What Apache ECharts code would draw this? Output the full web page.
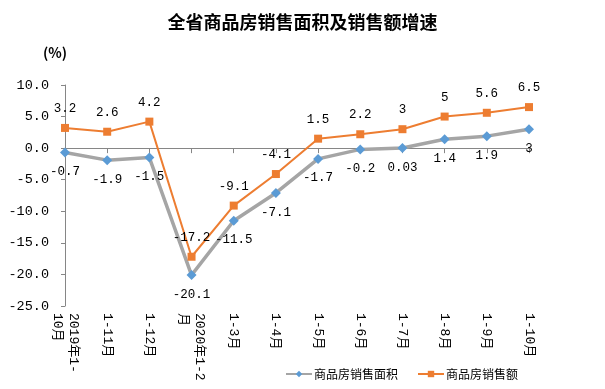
<!DOCTYPE html>
<html><head><meta charset="utf-8">
<script src="https://cdn.jsdelivr.net/npm/echarts@6/dist/echarts.min.js"></script>
<style>html,body{margin:0;padding:0;background:#fff}#c{width:605px;height:389px}</style>
</head><body><div id="c"></div>
<script>
var categories = ["2019年1-\n10月","1-11月","1-12月","2020年1-2\n月","1-3月","1-4月","1-5月","1-6月","1-7月","1-8月","1-9月","1-10月"];
var areaGrowth = [-0.7,-1.9,-1.5,-20.1,-11.5,-7.1,-1.7,-0.2,0.03,1.4,1.9,3];
var salesGrowth = [3.2,2.6,4.2,-17.2,-9.1,-4.1,1.5,2.2,3,5,5.6,6.5];
var seriesNames = ["商品房销售面积","商品房销售额"];
var FONT = '"Liberation Mono","Noto Sans CJK SC",monospace';
var chart = echarts.init(document.getElementById('c'));
chart.setOption({
  animation:false,
  backgroundColor:'#fff',
  title:{text:'全省商品房销售面积及销售额增速',left:'center',top:8,
    textStyle:{fontSize:18,fontWeight:'bold',color:'#000',fontFamily:'"Noto Sans CJK SC"'}},
  graphic:[{type:'text',left:43,top:46,style:{text:'(%)',font:'bold 14px "Noto Sans CJK SC"',fill:'#000'}}],
  grid:{left:65,right:76,top:85,bottom:83},
  legend:{left:280,top:363,itemGap:19,itemWidth:26,itemHeight:8,
    textStyle:{fontSize:12,color:'#000',fontFamily:'"Noto Sans CJK SC"',padding:[0,0,0,-3]},
    data:seriesNames},
  xAxis:{type:'category',boundaryGap:false,data:categories,
    axisLine:{lineStyle:{color:'#868686'}},
    axisTick:{alignWithLabel:true,length:5,lineStyle:{color:'#868686'}},
    axisLabel:{rotate:-90,interval:0,margin:7,fontSize:13,color:'#000',fontFamily:FONT,lineHeight:16}},
  yAxis:{type:'value',min:-25,max:10,interval:5,
    axisLine:{show:true,lineStyle:{color:'#868686'}},
    axisTick:{show:true,length:4,lineStyle:{color:'#868686'}},
    splitLine:{show:false},
    axisLabel:{margin:16,fontSize:13.5,color:'#000',fontFamily:FONT,formatter:function(v){return v.toFixed(1);}}},
  series:[
    {name:seriesNames[0],type:'line',data:areaGrowth,symbol:'diamond',symbolSize:10,
     lineStyle:{color:'#A5A5A5',width:3.5},itemStyle:{color:'#5B9BD5'},
     label:{show:true,position:'bottom',distance:8,fontSize:12.5,color:'#000',fontFamily:FONT}},
    {name:seriesNames[1],type:'line',data:salesGrowth,symbol:'rect',symbolSize:8,
     lineStyle:{color:'#ED7D31',width:2},itemStyle:{color:'#ED7D31'},
     label:{show:true,position:'top',distance:9,fontSize:12.5,color:'#000',fontFamily:FONT}}
  ]
});
</script></body></html>
